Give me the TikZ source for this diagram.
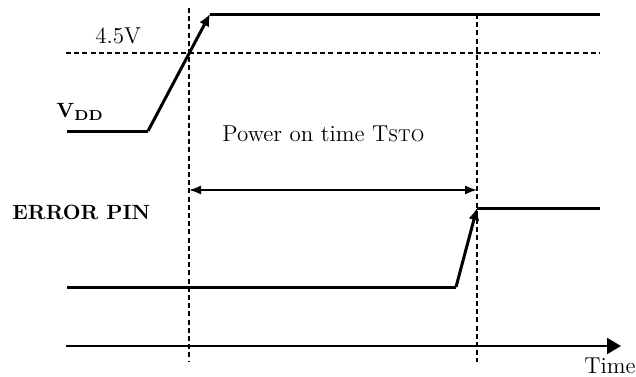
\documentclass[tikz,border=0pt]{standalone}
\usepackage{tikz}
\usetikzlibrary{arrows.meta, positioning}

\begin{document}
\begin{tikzpicture}[
    x=0.5pt, y=-0.5pt,
    signal/.style={line width=1.5pt, line join=round},
    guide/.style={line width=0.65pt, dash pattern=on 2.5pt off 1.6pt},
    txt/.style={font=\fontsize{11.5}{13}\selectfont, inner sep=0pt},
    bold/.style={font=\fontsize{10.3}{12}\selectfont\bfseries, inner sep=0pt}
  ]
    \useasboundingbox (0,0) rectangle (636,376);

    % points of the two waveforms
    \coordinate (vlo0) at (67,131);
    \coordinate (vlo1) at (148,131);
    \coordinate (vhi0) at (210,14);
    \coordinate (vhi1) at (600,14);
    \coordinate (elo0) at (67,287);
    \coordinate (elo1) at (456,287);
    \coordinate (ehi0) at (477,208);
    \coordinate (ehi1) at (600,208);

    % guide lines
    \coordinate (lvl0) at (66,53);
    \coordinate (lvl1) at (600,53);
    \coordinate (ta0) at (189,8);
    \coordinate (ta1) at (189,362);
    \coordinate (tb0) at (477,14);
    \coordinate (tb1) at (477,362);
    \draw[guide] (lvl0) -- (lvl1);
    \draw[guide] (ta0) -- (ta1);
    \draw[guide] (tb0) -- (tb1);

    % VDD
    \draw[signal] (vlo0) -- (vlo1);
    \draw[signal, -{Latex[length=6pt, width=5.5pt]}] (vlo1) -- (vhi0);
    \draw[signal] (vhi0) -- (vhi1);
    \node[txt, anchor=base west] (lvl) at (95,43) {4.5V};
    \node[bold, anchor=base west] (vdd) at (56,117)
      {V\textsubscript{DD}};

    % power on time
    \coordinate (span0) at (189,190);
    \coordinate (span1) at (477,190);
    \draw[line width=0.8pt, {Latex[length=6pt, width=4.5pt]}-{Latex[length=6pt, width=4.5pt]}]
      (span0) -- (span1);
    \node[txt, anchor=base west] (tsto) at (222,141)
      {Power on time T{\fontsize{8.5}{10}\selectfont STO}};

    % ERROR PIN
    \draw[signal] (elo0) -- (elo1);
    \draw[signal, -{Latex[length=6pt, width=5.5pt]}] (elo1) -- (ehi0);
    \draw[signal] (ehi0) -- (ehi1);
    \node[bold, anchor=base west] (err) at (12,219) {ERROR PIN};

    % time axis
    \coordinate (t0) at (66,346);
    \coordinate (t1) at (621,346);
    \draw[line width=1pt, -{Triangle[length=7pt, width=8pt]}] (t0) -- (t1);
    \node[txt, anchor=base west] (time) at (584,373) {Time};
  \end{tikzpicture}
\end{document}
